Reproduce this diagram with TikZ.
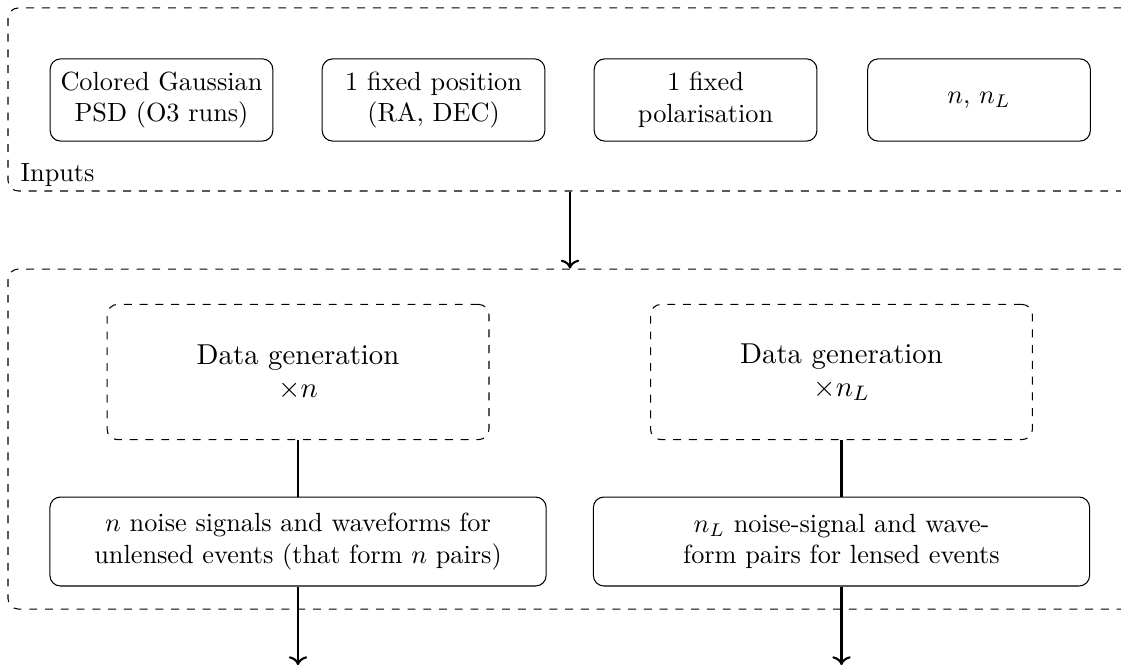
\documentclass[tikz,border=0pt]{standalone}
\usepackage{amsmath, amssymb}
\usepackage{tikz}
\usetikzlibrary{arrows.meta}

\tikzset{
  group/.style={draw=black, dashed, rounded corners, inner sep=0pt},
  inputbox/.style={draw=black, rounded corners, align=center, minimum width=2.98cm, minimum height=1.1cm},
  genbox/.style={draw=black, dashed, rounded corners, align=center, minimum width=5.11cm, minimum height=1.81cm, font=\fontsize{10.95}{12.5}\selectfont},
  outbox/.style={draw=black, rounded corners, align=center, minimum width=6.64cm, minimum height=1.19cm},
}

\begin{document}
\begin{tikzpicture}
			\useasboundingbox (0,0) rectangle (15,-8.912);
			% Containers
			\node[group, minimum width=15.04cm, minimum height=2.45cm] (inputs) at (7.627,-1.331) {};
			\node[group, minimum width=15.04cm, minimum height=4.55cm] (pipeline) at (7.627,-5.875) {};
			\node[anchor=base west, inner sep=0pt] (inlabel) at (0.27,-2.435) {Inputs};
			% Inputs
			\node[inputbox] (psd) at (2.161,-1.338) {Colored Gaussian\\PSD (O3 runs)};
			\node[inputbox] (pos) at (5.801,-1.338) {1 fixed position\\(RA, DEC)};
			\node[inputbox] (pol) at (9.441,-1.338) {1 fixed\\polarisation};
			\node[inputbox] (num) at (13.10,-1.338) {$n$, $n_L$};
			% Generation
			\node[genbox] (genU) at (3.988,-4.978) {Data generation\\$\times n$};
			\node[genbox] (genL) at (11.26,-4.978) {Data generation\\$\times n_L$};
			\node[outbox] (outU) at (3.988,-7.246) {$n$ noise signals and waveforms for\\unlensed events (that form $n$ pairs)};
			\node[outbox] (outL) at (11.26,-7.246) {$n_L$ noise-signal and wave-\\form pairs for lensed events};
			\coordinate (endU) at (3.988,-8.9);
			\coordinate (endL) at (11.26,-8.9);
			% Edges
			\draw[->, thick] (inputs.south) -- (pipeline.north);
			\draw[thick] (genU) -- (outU);
			\draw[thick] (genL) -- (outL);
			\draw[->, thick] (outU) -- (endU);
			\draw[->, thick] (outL) -- (endL);
		\end{tikzpicture}
\end{document}
